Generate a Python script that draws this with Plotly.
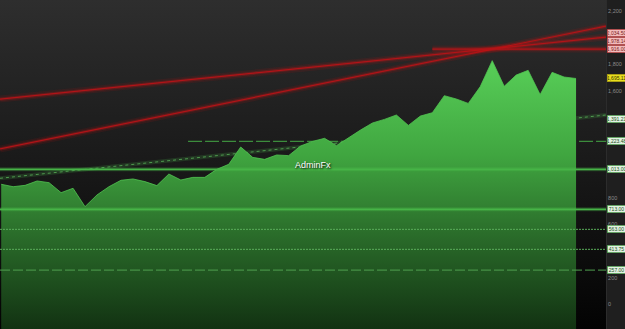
import plotly.graph_objects as go

# ---------------- data ----------------
equity = [901, 883, 893, 926, 913, 838, 871, 733, 821, 883,
          931, 941, 921, 891, 978, 933, 953, 953, 1013, 1051,
          1181, 1103, 1088, 1121, 1116, 1188, 1223, 1246, 1191, 1251,
          1308, 1361, 1388, 1421, 1343, 1413, 1438, 1566, 1541, 1508,
          1634, 1829, 1636, 1721, 1756, 1574, 1741, 1706, 1695]
idx = list(range(len(equity)))

# red trend lines: start value (left edge) -> end value (right edge)
red_trend_start = [1166, 1540]
red_trend_end = [2088, 2006]
# red horizontal level starting at a bar index
red_level_value = [1916]
red_level_start = [36.0]

# green trend line (dotted)
green_trend_start = [946]
green_trend_end = [1421]
# green horizontal levels
green_dashed_value = [1223]
green_dashed_start = [15.6]
green_solid_levels = [1013, 713]
green_dotted_levels = [563, 413]
green_dash_levels = [257]

# price tags on the right axis
pink_tags = [2034.50, 1978.14, 1916.00]
yellow_tags = [1695.11]
green_tags = [1391.21, 1223.48, 1013.00, 713.00, 563.00, 413.75, 257.00]

# visible axis ticks (the others are covered by price tags)
tick_vals = [0, 200, 600, 800, 1600, 1800, 2200]
tick_text = ["0", "200", "600", "800", "1,600", "1,800", "2,200"]

Y_MIN, Y_MAX = -185, 2284
X_MIN, X_MAX = -0.1, 50.5

fig = go.Figure()

# background gradient
fig.add_trace(go.Scatter(
    x=[X_MIN, X_MAX, X_MAX, X_MIN, X_MIN],
    y=[Y_MIN, Y_MIN, Y_MAX, Y_MAX, Y_MIN],
    mode="lines", line=dict(width=0), fill="toself",
    fillgradient=dict(type="vertical",
                      colorscale=[[0, "#030303"], [0.45, "#171717"], [1, "#2e2e2e"]],
                      start=Y_MIN, stop=Y_MAX),
    hoverinfo="skip", showlegend=False))

# green dotted trend line (behind area)
for s, e in zip(green_trend_start, green_trend_end):
    fig.add_trace(go.Scatter(x=[X_MIN, X_MAX], y=[s, e], mode="lines",
                             line=dict(color="rgba(70,160,70,0.22)", width=4),
                             hoverinfo="skip", showlegend=False))
    fig.add_trace(go.Scatter(x=[X_MIN, X_MAX], y=[s, e], mode="lines",
                             line=dict(color="#4e9a4e", width=1, dash="dot"),
                             hoverinfo="skip", showlegend=False))

# green dashed level (behind area)
for v, st in zip(green_dashed_value, green_dashed_start):
    fig.add_trace(go.Scatter(x=[st, X_MAX], y=[v, v], mode="lines",
                             line=dict(color="#3c8c3c", width=1.2, dash="14px,3px"),
                             hoverinfo="skip", showlegend=False))

# equity area
fig.add_trace(go.Scatter(x=idx, y=[Y_MIN] * len(idx), mode="lines",
                         line=dict(width=0), hoverinfo="skip", showlegend=False))
fig.add_trace(go.Scatter(
    x=idx, y=equity, mode="lines", fill="tonexty",
    line=dict(color="#50c450", width=0.8),
    fillgradient=dict(type="vertical",
                      colorscale=[[0, "#123212"], [0.35, "#2a6c2a"],
                                  [0.65, "#40a640"], [1, "#58cf58"]],
                      start=Y_MIN, stop=max(equity)),
    hoverinfo="skip", showlegend=False))

# green horizontal levels over the area
for v in green_solid_levels:
    fig.add_trace(go.Scatter(x=[X_MIN, X_MAX], y=[v, v], mode="lines",
                             line=dict(color="rgba(80,200,80,0.22)", width=4),
                             hoverinfo="skip", showlegend=False))
    fig.add_trace(go.Scatter(x=[X_MIN, X_MAX], y=[v, v], mode="lines",
                             line=dict(color="#46b446", width=1.6),
                             hoverinfo="skip", showlegend=False))
for v in green_dotted_levels:
    fig.add_trace(go.Scatter(x=[X_MIN, X_MAX], y=[v, v], mode="lines",
                             line=dict(color="#5aae5a", width=1, dash="2px,1px"),
                             hoverinfo="skip", showlegend=False))
for v in green_dash_levels:
    fig.add_trace(go.Scatter(x=[X_MIN, X_MAX], y=[v, v], mode="lines",
                             line=dict(color="#4fa04f", width=1, dash="10px,3px"),
                             hoverinfo="skip", showlegend=False))

# red lines with glow
def red_line(xs, ys):
    fig.add_trace(go.Scatter(x=xs, y=ys, mode="lines",
                             line=dict(color="rgba(200,20,20,0.12)", width=7),
                             hoverinfo="skip", showlegend=False))
    fig.add_trace(go.Scatter(x=xs, y=ys, mode="lines",
                             line=dict(color="rgba(200,20,20,0.28)", width=3.5),
                             hoverinfo="skip", showlegend=False))
    fig.add_trace(go.Scatter(x=xs, y=ys, mode="lines",
                             line=dict(color="#b01418", width=1.2),
                             hoverinfo="skip", showlegend=False))

for s, e in zip(red_trend_start, red_trend_end):
    red_line([X_MIN, X_MAX], [s, e])
for v, st in zip(red_level_value, red_level_start):
    red_line([st, X_MAX], [v, v])

# price tags
def tag(v, bg, border, fg):
    fig.add_annotation(x=1, xref="paper", y=v, yref="y", xanchor="left",
                       yanchor="middle", text=f"{v:,.2f}", showarrow=False,
                       font=dict(size=5, color=fg, family="Liberation Sans"),
                       bgcolor=bg, bordercolor=border, borderwidth=0.6,
                       borderpad=0.5, width=17, xshift=1)

for v in pink_tags:
    tag(v, "#f2bcbc", "#b02a2a", "#7a1a1a")
for v in yellow_tags:
    tag(v, "#e8de1e", "#a89c10", "#333300")
for v in green_tags:
    tag(v, "#e2f2e2", "#3a9a3a", "#1e4e1e")

fig.add_annotation(x=0.5165, xref="paper", y=0.5, yref="paper", text="AdminFx",
                   showarrow=False,
                   font=dict(size=9, color="#ffffff", family="Liberation Sans",
                             shadow="1px 1px 2px #000000"))

fig.update_layout(
    width=625, height=329,
    margin=dict(l=0, r=19, t=0, b=0),
    paper_bgcolor="#1f1f1f", plot_bgcolor="#111111",
    showlegend=False, hovermode=False,
    xaxis=dict(range=[X_MIN, X_MAX], showgrid=False, zeroline=False,
               showticklabels=False, ticks="", fixedrange=True),
    yaxis=dict(range=[Y_MIN, Y_MAX], side="right", showgrid=False, zeroline=False,
               tickvals=tick_vals, ticktext=tick_text, ticks="",
               tickfont=dict(size=5.5, color="#8a8a8a", family="Liberation Sans"),
               showline=True, linecolor="#2c2c2c", linewidth=1, fixedrange=True),
)

fig.write_html("out.html", config={"displayModeBar": False})
